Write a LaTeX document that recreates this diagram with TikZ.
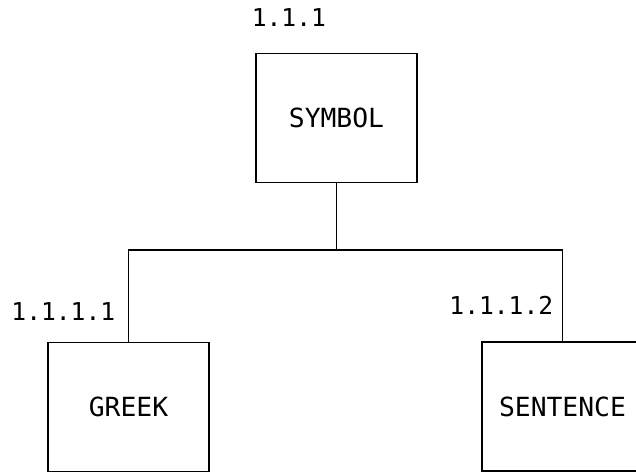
\documentclass[tikz,border=0pt]{standalone}
\usepackage{fontspec}
\newfontfamily\plotfont{DejaVu Sans Mono}
\usetikzlibrary{positioning}

\begin{document}
\begin{tikzpicture}[x=0.02cm, y=-0.02cm,
    box/.style={draw, line width=0.6pt, minimum width=3.22cm, minimum height=2.58cm,
                inner sep=0pt, font=\plotfont\fontsize{15}{17}\selectfont},
    num/.style={inner sep=0pt, font=\plotfont\fontsize{14}{16}\selectfont},
    link/.style={line width=0.6pt}]

        % Define parameters
        \def\drop{67}      % Length of the stem below the top box

        % Page frame (the right box runs off the page)
        \useasboundingbox (0,0) rectangle (636,474);
        \clip (0,0) rectangle (636,474);

        % Boxes
        \node[box] (symbol)   at (336.5,118)   {SYMBOL};
        \node[box] (greek)    at (128.5,407)   {GREEK};
        \node[box] (sentence) at (562.5,406.5) {SENTENCE};

        % Numbers
        \node[num, above right=0.52cm and -0.08cm of symbol.north west] (nsymbol) {1.1.1};
        \node[num, above left=0.42cm and 0.26cm of greek.north] (ngreek) {1.1.1.1};
        \node[num, above left=0.54cm and 0.18cm of sentence.north] (nsentence) {1.1.1.2};

        % Tree connectors
        \draw[link] (symbol.south) -- ++(0,\drop) coordinate (fork);
        \draw[link] (fork) -| (greek.north);
        \draw[link] (fork) -| (sentence.north);

    \end{tikzpicture}
\end{document}
